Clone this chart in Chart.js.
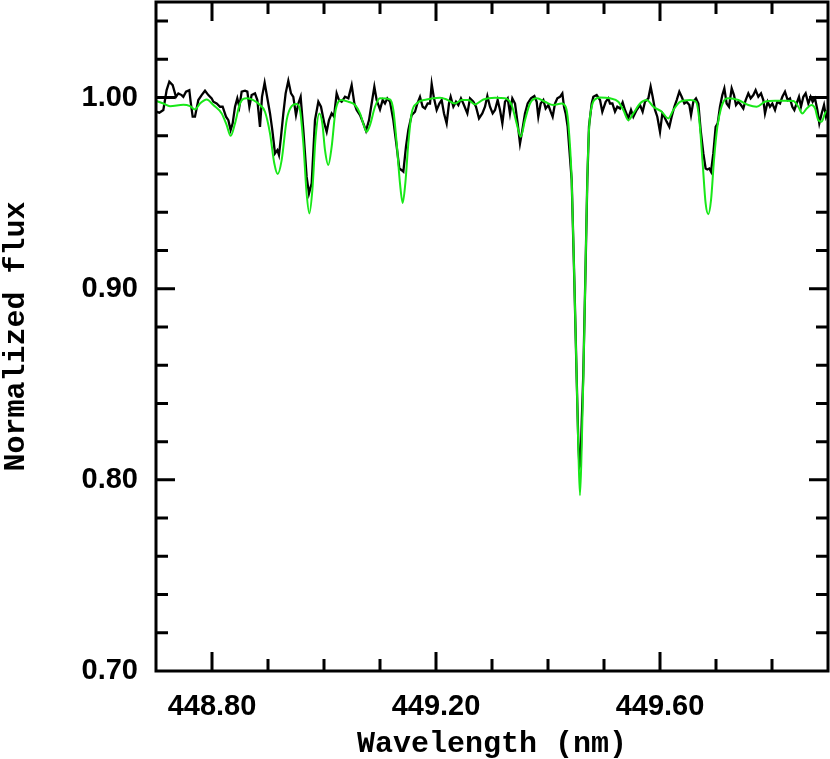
<!DOCTYPE html>
<html>
<head>
<meta charset="utf-8">
<script src="https://cdn.jsdelivr.net/npm/chart.js@4.4.1/dist/chart.umd.min.js"></script>
<style>
  html, body { margin: 0; padding: 0; background: #fff; }
</style>
</head>
<body>
<canvas id="spectrum" width="830" height="759"></canvas>
<script>
// observed spectrum (black)
const obsWave = [
  448.7000, 448.7060, 448.7131, 448.7190, 448.7238, 448.7298, 448.7357, 448.7399, 448.7458, 448.7488,
  448.7536, 448.7595, 448.7619, 448.7655, 448.7696, 448.7756, 448.7815, 448.7875, 448.7935, 448.7994,
  448.8024, 448.8083, 448.8143, 448.8190, 448.8250, 448.8292, 448.8333, 448.8369, 448.8411, 448.8452,
  448.8488, 448.8530, 448.8589, 448.8631, 448.8667, 448.8708, 448.8768, 448.8810, 448.8857, 448.8893,
  448.8940, 448.8994, 448.9036, 448.9077, 448.9125, 448.9167, 448.9196, 448.9232, 448.9274, 448.9315,
  448.9363, 448.9411, 448.9452, 448.9500, 448.9542, 448.9583, 448.9631, 448.9690, 448.9732, 448.9780,
  448.9839, 448.9899, 448.9946, 449.0006, 449.0048, 449.0089, 449.0137, 449.0179, 449.0226, 449.0268,
  449.0315, 449.0375, 449.0435, 449.0494, 449.0542, 449.0583, 449.0643, 449.0702, 449.0750, 449.0804,
  449.0851, 449.0899, 449.0940, 449.1000, 449.1048, 449.1089, 449.1131, 449.1179, 449.1238, 449.1298,
  449.1345, 449.1387, 449.1417, 449.1464, 449.1506, 449.1565, 449.1625, 449.1667, 449.1714, 449.1762,
  449.1804, 449.1851, 449.1893, 449.1923, 449.1964, 449.2012, 449.2060, 449.2101, 449.2143, 449.2190,
  449.2232, 449.2262, 449.2310, 449.2357, 449.2399, 449.2446, 449.2488, 449.2560, 449.2607, 449.2667,
  449.2714, 449.2768, 449.2827, 449.2875, 449.2917, 449.2964, 449.3012, 449.3054, 449.3101, 449.3143,
  449.3185, 449.3232, 449.3280, 449.3321, 449.3363, 449.3411, 449.3458, 449.3500, 449.3542, 449.3589,
  449.3637, 449.3696, 449.3756, 449.3798, 449.3827, 449.3869, 449.3917, 449.3958, 449.4006, 449.4048,
  449.4083, 449.4125, 449.4167, 449.4214, 449.4256, 449.4286, 449.4315, 449.4350, 449.4423, 449.4470,
  449.4513, 449.4541, 449.4562, 449.4580, 449.4602, 449.4630, 449.4666, 449.4702, 449.4732, 449.4780,
  449.4810, 449.4869, 449.4929, 449.4970, 449.5030, 449.5077, 449.5107, 449.5150, 449.5196, 449.5238,
  449.5286, 449.5333, 449.5375, 449.5435, 449.5482, 449.5524, 449.5583, 449.5643, 449.5690, 449.5732,
  449.5792, 449.5833, 449.5869, 449.5911, 449.5952, 449.6000, 449.6042, 449.6077, 449.6119, 449.6167,
  449.6208, 449.6256, 449.6298, 449.6345, 449.6387, 449.6435, 449.6476, 449.6524, 449.6554, 449.6595,
  449.6643, 449.6685, 449.6726, 449.6774, 449.6815, 449.6845, 449.6881, 449.6911, 449.6952, 449.6994,
  449.7030, 449.7071, 449.7113, 449.7149, 449.7190, 449.7232, 449.7280, 449.7321, 449.7357, 449.7399,
  449.7446, 449.7488, 449.7530, 449.7577, 449.7619, 449.7667, 449.7708, 449.7756, 449.7804, 449.7845,
  449.7875, 449.7923, 449.7964, 449.8006, 449.8054, 449.8095, 449.8143, 449.8185, 449.8232, 449.8280,
  449.8321, 449.8363, 449.8399, 449.8440, 449.8482, 449.8518, 449.8560, 449.8601, 449.8649, 449.8690,
  449.8726, 449.8768, 449.8810, 449.8845, 449.8887, 449.8929, 449.8964, 449.9006
];
const obsFlux = [
  0.9926, 0.9921, 0.9935, 1.0039, 1.0083, 1.0065, 1.0004, 1.0022, 1.0013, 1.0004,
  1.0031, 1.0039, 0.9978, 0.9900, 0.9900, 0.9987, 1.0013, 1.0036, 1.0013, 0.9996,
  0.9978, 0.9969, 0.9952, 0.9952, 0.9900, 0.9882, 0.9830, 0.9865, 0.9952, 0.9996,
  0.9952, 1.0031, 1.0036, 1.0031, 0.9952, 1.0013, 1.0022, 0.9987, 0.9847, 1.0004,
  1.0078, 0.9987, 0.9917, 0.9830, 0.9708, 0.9725, 0.9699, 0.9795, 0.9917, 1.0022,
  1.0088, 1.0022, 1.0004, 0.9908, 0.9969, 1.0004, 0.9830, 0.9585, 0.9498, 0.9551,
  0.9882, 0.9978, 0.9952, 0.9865, 0.9821, 0.9882, 0.9917, 0.9900, 1.0022, 0.9987,
  0.9978, 1.0004, 0.9996, 1.0065, 0.9969, 0.9935, 0.9908, 0.9865, 0.9826, 0.9882,
  0.9969, 1.0057, 0.9987, 0.9938, 0.9987, 0.9969, 0.9996, 0.9978, 0.9882, 0.9743,
  0.9629, 0.9620, 0.9612, 0.9743, 0.9830, 0.9908, 0.9926, 0.9969, 1.0004, 0.9952,
  0.9943, 0.9969, 0.9969, 1.0071, 0.9996, 0.9935, 0.9969, 0.9987, 0.9917, 0.9865,
  0.9969, 1.0004, 0.9952, 0.9978, 0.9961, 0.9996, 0.9969, 0.9917, 0.9996, 0.9978,
  0.9952, 0.9891, 0.9917, 0.9952, 1.0008, 0.9952, 0.9917, 0.9935, 0.9987, 0.9935,
  0.9865, 0.9978, 0.9996, 0.9917, 0.9996, 0.9969, 0.9865, 0.9760, 0.9830, 0.9917,
  0.9969, 0.9996, 1.0008, 0.9978, 0.9900, 0.9969, 0.9987, 0.9943, 0.9961, 0.9926,
  0.9900, 0.9969, 0.9996, 1.0004, 1.0022, 0.9952, 0.9917, 0.9850, 0.9568, 0.9045,
  0.8521, 0.8200, 0.8067, 0.8080, 0.8300, 0.8550, 0.9045, 0.9568, 0.9850, 0.9969,
  1.0004, 1.0013, 0.9987, 0.9926, 0.9978, 0.9996, 0.9969, 0.9969, 0.9926, 0.9952,
  0.9943, 0.9975, 0.9935, 0.9891, 0.9935, 0.9900, 0.9935, 0.9961, 0.9926, 0.9978,
  0.9996, 1.0057, 1.0004, 0.9935, 0.9900, 0.9821, 0.9917, 0.9900, 0.9874, 0.9847,
  0.9900, 0.9952, 0.9987, 1.0031, 1.0004, 0.9969, 0.9978, 0.9961, 0.9908, 0.9978,
  0.9996, 0.9969, 0.9830, 0.9708, 0.9629, 0.9624, 0.9629, 0.9612, 0.9708, 0.9847,
  0.9865, 0.9952, 1.0013, 1.0048, 0.9969, 0.9952, 1.0048, 1.0013, 0.9961, 0.9978,
  0.9961, 0.9943, 0.9987, 1.0022, 0.9996, 1.0013, 1.0039, 1.0004, 1.0022, 0.9987,
  0.9917, 0.9978, 0.9952, 0.9969, 0.9935, 0.9978, 0.9969, 1.0004, 1.0031, 0.9987,
  0.9996, 0.9952, 0.9935, 0.9969, 1.0004, 0.9952, 1.0004, 1.0022, 0.9969, 1.0004,
  0.9978, 0.9996, 0.9935, 0.9865, 0.9917, 0.9961, 0.9900, 0.9935
];

// synthetic / model spectrum (green)
const modelWave = [
  448.7000, 448.7131, 448.7250, 448.7488, 448.7607, 448.7696, 448.7786, 448.7905, 448.8024, 448.8173,
  448.8262, 448.8333, 448.8411, 448.8500, 448.8619, 448.8738, 448.8857, 448.8946, 448.9036, 448.9113,
  448.9173, 448.9244, 448.9333, 448.9423, 448.9512, 448.9571, 448.9631, 448.9690, 448.9738, 448.9792,
  448.9851, 448.9917, 448.9970, 449.0018, 449.0077, 449.0137, 449.0208, 449.0315, 449.0435, 449.0554,
  449.0643, 449.0720, 449.0762, 449.0821, 449.0911, 449.1000, 449.1179, 449.1238, 449.1298, 449.1357,
  449.1405, 449.1452, 449.1506, 449.1565, 449.1655, 449.1833, 449.2071, 449.2190, 449.2339, 449.2458,
  449.2577, 449.2696, 449.2845, 449.3054, 449.3232, 449.3351, 449.3440, 449.3512, 449.3589, 449.3679,
  449.3798, 449.3946, 449.4095, 449.4244, 449.4315, 449.4363, 449.4423, 449.4470, 449.4513, 449.4541,
  449.4571, 449.4602, 449.4630, 449.4666, 449.4702, 449.4732, 449.4780, 449.4869, 449.4929, 449.5107,
  449.5256, 449.5345, 449.5435, 449.5524, 449.5643, 449.5762, 449.5881, 449.6030, 449.6149, 449.6238,
  449.6357, 449.6536, 449.6643, 449.6702, 449.6762, 449.6815, 449.6863, 449.6911, 449.6964, 449.7024,
  449.7089, 449.7161, 449.7220, 449.7399, 449.7577, 449.7726, 449.7875, 449.8054, 449.8232, 449.8381,
  449.8470, 449.8542, 449.8619, 449.8708, 449.8768, 449.8827, 449.8887, 449.8946, 449.9006
];
const modelFlux = [
  0.9983, 0.9969, 0.9955, 0.9962, 0.9955, 0.9938, 0.9969, 0.9990, 0.9961, 0.9917,
  0.9856, 0.9800, 0.9865, 0.9969, 0.9996, 0.9987, 0.9961, 0.9926, 0.9812, 0.9655,
  0.9600, 0.9673, 0.9882, 0.9955, 0.9966, 0.9935, 0.9760, 0.9498, 0.9394, 0.9516,
  0.9795, 0.9917, 0.9865, 0.9725, 0.9647, 0.9743, 0.9935, 0.9987, 0.9978, 0.9961,
  0.9917, 0.9847, 0.9821, 0.9856, 0.9952, 0.9996, 0.9990, 0.9935, 0.9760, 0.9551,
  0.9449, 0.9551, 0.9760, 0.9917, 0.9969, 0.9990, 0.9999, 0.9990, 0.9969, 0.9987,
  0.9987, 0.9964, 0.9990, 0.9999, 0.9996, 0.9961, 0.9865, 0.9795, 0.9882, 0.9969,
  0.9996, 0.9978, 0.9961, 0.9969, 0.9952, 0.9865, 0.9568, 0.9045, 0.8521, 0.8172,
  0.7919, 0.8172, 0.8521, 0.9045, 0.9568, 0.9830, 0.9952, 0.9996, 1.0001, 0.9996,
  0.9978, 0.9935, 0.9882, 0.9917, 0.9969, 0.9987, 0.9952, 0.9926, 0.9891, 0.9935,
  0.9978, 0.9987, 0.9978, 0.9882, 0.9655, 0.9446, 0.9390, 0.9463, 0.9673, 0.9847,
  0.9943, 0.9990, 0.9996, 0.9987, 0.9961, 0.9952, 0.9978, 0.9983, 0.9983, 0.9982,
  0.9952, 0.9917, 0.9943, 0.9961, 0.9943, 0.9882, 0.9874, 0.9917, 0.9938
];

const xTickValues = [448.80, 449.20, 449.60];
const yTickValues = [0.70, 0.80, 0.90, 1.00];

const toPoints = (xs, ys) => xs.map((x, i) => ({x: x, y: ys[i]}));

// frame around the plot with inward ticks on all four sides
const framePlugin = {
  id: 'frame',
  afterDraw(chart) {
    const {ctx, chartArea: {left, top, right, bottom}, scales: {x, y}} = chart;
    ctx.save();
    ctx.strokeStyle = '#000';
    ctx.lineWidth = 3;
    ctx.lineCap = 'butt';
    ctx.beginPath();
    for (let i = 1; i < 12; i++) {
      const px = x.getPixelForValue(448.70 + i * 0.1);
      const len = (i % 4 === 1) ? 19 : 12;
      ctx.moveTo(px, bottom); ctx.lineTo(px, bottom - len);
      ctx.moveTo(px, top); ctx.lineTo(px, top + len);
    }
    for (let i = 1; i < 18; i++) {
      const py = y.getPixelForValue(0.70 + i * 0.02);
      const len = (i % 5 === 0) ? 19 : 12;
      ctx.moveTo(left, py); ctx.lineTo(left + len, py);
      ctx.moveTo(right, py); ctx.lineTo(right - len, py);
    }
    ctx.stroke();
    ctx.strokeRect(left, top, right - left, bottom - top);
    ctx.restore();
  }
};

const tickFont = {family: "'Liberation Sans', Arial, sans-serif", size: 29, weight: 'bold'};
const titleFont = {family: "'Liberation Mono', 'Courier New', monospace", size: 30, weight: 'bold', lineHeight: 1};

new Chart(document.getElementById('spectrum'), {
  type: 'line',
  plugins: [framePlugin],
  data: {
    datasets: [
      {
        label: 'model',
        data: toPoints(modelWave, modelFlux),
        borderColor: 'rgb(24, 232, 24)',
        borderWidth: 2,
        pointRadius: 0,
        cubicInterpolationMode: 'monotone',
        fill: false
      },
      {
        label: 'observed',
        data: toPoints(obsWave, obsFlux),
        borderColor: '#000',
        borderWidth: 2.3,
        pointRadius: 0,
        tension: 0,
        fill: false
      }
    ]
  },
  options: {
    responsive: false,
    animation: false,
    layout: {padding: {top: 2, right: 2, left: 0, bottom: 0}},
    plugins: {
      legend: {display: false},
      tooltip: {enabled: false}
    },
    scales: {
      x: {
        type: 'linear',
        min: 448.70,
        max: 449.90,
        afterBuildTicks: scale => { scale.ticks = xTickValues.map(v => ({value: v})); },
        afterFit: scale => {
          scale.height = 88;
          scale.paddingLeft = 0;
          scale.paddingRight = 0;
        },
        grid: {display: false, drawTicks: false},
        border: {display: false},
        ticks: {
          color: '#000',
          font: tickFont,
          padding: 19,
          maxRotation: 0,
          autoSkip: false,
          callback: v => Number(v).toFixed(2)
        },
        title: {
          display: true,
          text: 'Wavelength (nm)',
          color: '#000',
          font: titleFont,
          padding: {top: 0, bottom: 0}
        }
      },
      y: {
        type: 'linear',
        min: 0.70,
        max: 1.05,
        afterBuildTicks: scale => { scale.ticks = yTickValues.map(v => ({value: v})); },
        afterFit: scale => {
          scale.width = 156;
          scale.paddingTop = 0;
          scale.paddingBottom = 0;
        },
        grid: {display: false, drawTicks: false},
        border: {display: false},
        ticks: {
          color: '#000',
          font: tickFont,
          padding: 18,
          autoSkip: false,
          callback: v => Number(v).toFixed(2)
        },
        title: {
          display: true,
          text: 'Normalized flux',
          color: '#000',
          font: titleFont,
          padding: {top: 1, bottom: 0}
        }
      }
    }
  }
});
</script>
</body>
</html>
